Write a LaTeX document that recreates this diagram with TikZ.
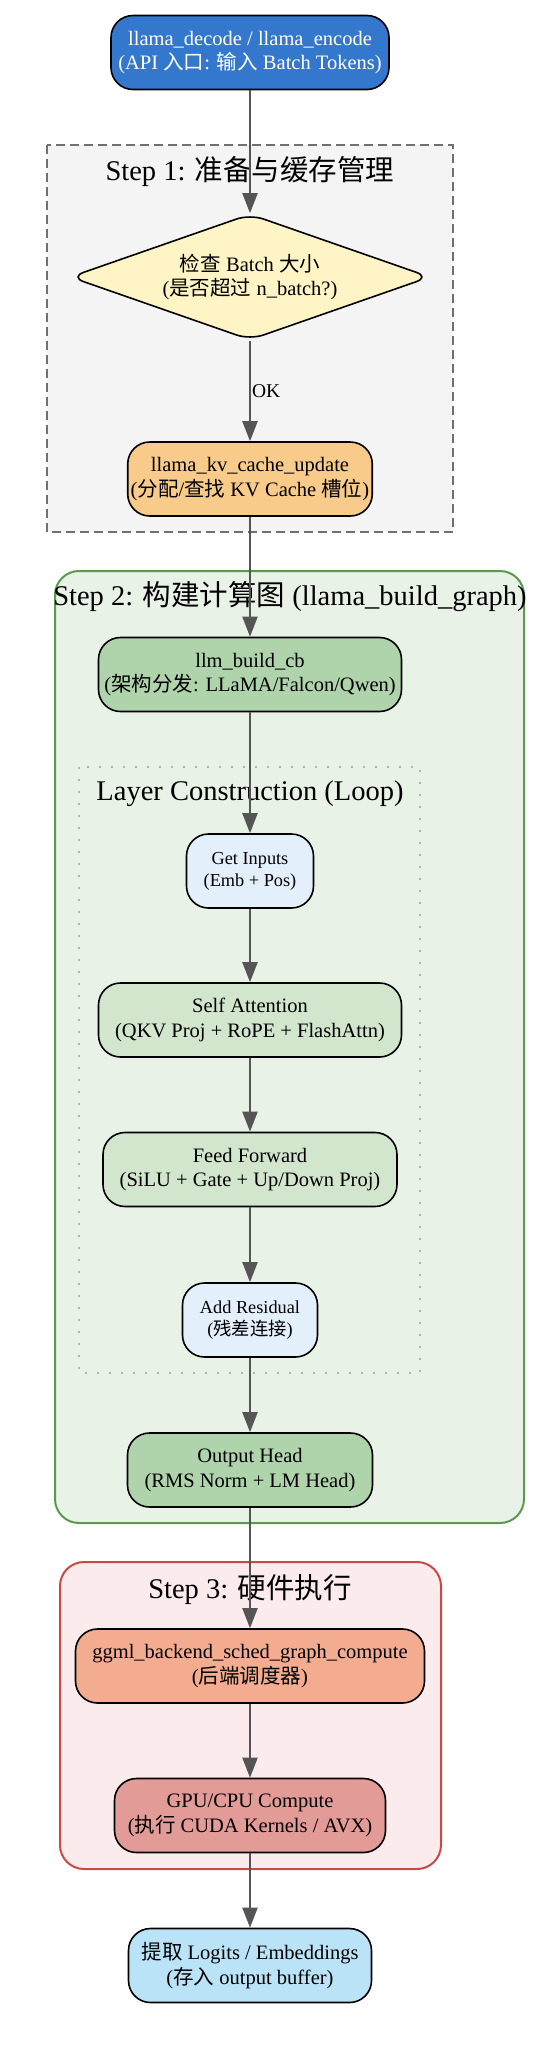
\documentclass[tikz,border=0pt]{standalone}
\usepackage{fontspec}
\setmainfont{Liberation Serif}
\newfontfamily\cjk{Noto Sans CJK SC}
\usetikzlibrary{arrows.meta,shapes.geometric}

\definecolor{apiblue}{HTML}{3478CD}
\definecolor{prepbg}{HTML}{F4F4F4}
\definecolor{prepline}{HTML}{707070}
\definecolor{checkyellow}{HTML}{FFF4C6}
\definecolor{kvorange}{HTML}{F8CB8B}
\definecolor{graphbg}{HTML}{E9F2E7}
\definecolor{graphline}{HTML}{5A9A4C}
\definecolor{loopdots}{HTML}{93C993}
\definecolor{buildgreen}{HTML}{AFD3AB}
\definecolor{layergreen}{HTML}{D1E6CC}
\definecolor{inputblue}{HTML}{E3F0FB}
\definecolor{hwbg}{HTML}{FCEBEC}
\definecolor{hwline}{HTML}{C94A45}
\definecolor{schedsalmon}{HTML}{F4AC91}
\definecolor{computered}{HTML}{E39B98}
\definecolor{outsky}{HTML}{BBE3F7}
\definecolor{linkgray}{HTML}{555555}

\newcommand{\zh}[1]{{\cjk #1}}

\begin{document}
\begin{tikzpicture}[x=1pt, y=-1pt,
  stage/.style={draw=black, line width=1.6pt, rounded corners=22pt,
                minimum height=74pt, inner xsep=3pt, align=center,
                font=\fontsize{20.5pt}{24.6pt}\selectfont},
  pill/.style={stage, font=\fontsize{18.3pt}{22pt}\selectfont},
  check/.style={diamond, aspect=2.85, draw=black, line width=1.6pt,
                rounded corners=14pt, inner sep=0pt, align=center,
                font=\fontsize{20.5pt}{24.6pt}\selectfont},
  link/.style={-{Triangle[length=20pt,width=15pt]}, line width=2pt, linkgray},
  grouptitle/.style={anchor=base, font=\fontsize{28.5pt}{34pt}\selectfont}
]
\useasboundingbox (0,0) rectangle (554,2054);

% clusters
\draw[fill=prepbg, draw=prepline, line width=2pt, dash pattern=on 9pt off 5pt]
  (47,145) rectangle (453,532);
\node[grouptitle] (preptitle) at (250,180) {Step 1: \zh{准备与缓存管理}};
\draw[fill=graphbg, draw=graphline, line width=2pt, rounded corners=24pt]
  (55,571) rectangle (524,1523);
\node[grouptitle] (graphtitle) at (290,605) {Step 2: \zh{构建计算图} (llama\_build\_graph)};
\draw[draw=loopdots, line width=2pt, dash pattern=on 2pt off 10pt]
  (79,767) rectangle (420,1373);
\node[grouptitle] (looptitle) at (250,800) {Layer Construction (Loop)};
\draw[fill=hwbg, draw=hwline, line width=2pt, rounded corners=24pt]
  (60,1562) rectangle (441,1869);
\node[grouptitle] (hwtitle) at (250,1598) {Step 3: \zh{硬件执行}};

% nodes
\node[stage, fill=apiblue, text=white, minimum width=278pt] (api) at (250,52.5)
  {llama\_decode / llama\_encode\\(API \zh{入口}: \zh{输入} Batch Tokens)};
\node[check, fill=checkyellow, minimum width=360pt, minimum height=126pt] (batch) at (250,277)
  {\zh{检查} Batch \zh{大小}\\(\zh{是否超过} n\_batch?)};
\node[stage, fill=kvorange, minimum width=243pt] (kv) at (250,479)
  {llama\_kv\_cache\_update\\(\zh{分配}/\zh{查找} KV Cache \zh{槽位})};
\node[stage, fill=buildgreen, minimum width=303pt] (build) at (250,674.5)
  {llm\_build\_cb\\(\zh{架构分发}: LLaMA/Falcon/Qwen)};
\node[pill, fill=inputblue, minimum width=127pt] (inputs) at (250,871)
  {Get Inputs\\(Emb + Pos)};
\node[stage, fill=layergreen, minimum width=303pt] (attn) at (250,1020)
  {Self Attention\\(QKV Proj + RoPE + FlashAttn)};
\node[stage, fill=layergreen, minimum width=294pt] (ffn) at (250,1169.5)
  {Feed Forward\\(SiLU + Gate + Up/Down Proj)};
\node[pill, fill=inputblue, minimum width=135pt] (resid) at (250,1320)
  {Add Residual\\(\zh{残差连接})};
\node[stage, fill=buildgreen, minimum width=245pt] (head) at (250,1470)
  {Output Head\\(RMS Norm + LM Head)};
\node[stage, fill=schedsalmon, minimum width=349pt] (sched) at (250,1666)
  {ggml\_backend\_sched\_graph\_compute\\(\zh{后端调度器})};
\node[stage, fill=computered, minimum width=271pt] (compute) at (250,1815.5)
  {GPU/CPU Compute\\(\zh{执行} CUDA Kernels / AVX)};
\node[stage, fill=outsky, minimum width=243pt] (result) at (250,1965.5)
  {\zh{提取} Logits / Embeddings\\(\zh{存入} output buffer)};

% edges
\draw[link] (api) -- (batch);
\draw[link] (batch) -- node[right, inner sep=1pt, text=black,
  font=\fontsize{19.5pt}{22pt}\selectfont] (oklabel) {OK} (kv);
\draw[link] (kv) -- (build);
\draw[link] (build) -- (inputs);
\draw[link] (inputs) -- (attn);
\draw[link] (attn) -- (ffn);
\draw[link] (ffn) -- (resid);
\draw[link] (resid) -- (head);
\draw[link] (head) -- (sched);
\draw[link] (sched) -- (compute);
\draw[link] (compute) -- (result);
\end{tikzpicture}
\end{document}
